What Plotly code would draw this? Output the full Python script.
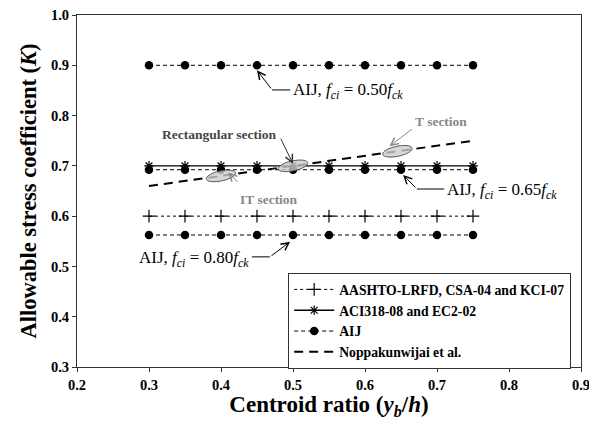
import numpy as np
import plotly.graph_objects as go

x_vals = [0.30, 0.35, 0.40, 0.45, 0.50, 0.55, 0.60, 0.65, 0.70, 0.75]
aashto = [0.60] * 10
aci = [0.70] * 10
aij_050 = [0.90] * 10
aij_065 = [0.6923] * 10
aij_080 = [0.5625] * 10
nopp = [0.66, 0.67, 0.68, 0.69, 0.70, 0.71, 0.72, 0.73, 0.74, 0.75]

FONT = "Liberation Serif"
fig = go.Figure()

fig.add_trace(go.Scatter(x=x_vals, y=aashto, mode="lines+markers", name="AASHTO-LRFD, CSA-04 and KCI-07",
                         line=dict(color="black", width=1, dash="dot"),
                         marker=dict(symbol="cross-thin", size=9, line=dict(color="black", width=1.2))))
fig.add_trace(go.Scatter(x=x_vals, y=aci, mode="lines+markers", name="ACI318-08 and EC2-02",
                         line=dict(color="black", width=1.3),
                         marker=dict(symbol="asterisk", size=8, line=dict(color="black", width=1.2))))
for i, vals in enumerate([aij_050, aij_065, aij_080]):
    fig.add_trace(go.Scatter(x=x_vals, y=vals, mode="lines+markers", name="AIJ",
                             legendgroup="aij", showlegend=(i == 0),
                             line=dict(color="black", width=1, dash="4px,3px"),
                             marker=dict(symbol="circle", size=8.5, color="black")))
fig.add_trace(go.Scatter(x=x_vals, y=nopp, mode="lines", name="Noppakunwijai et al.",
                         line=dict(color="black", width=2, dash="9px,6px")))

XS, YS = 720.0, 503.0

def ellipse(cx, cy, w, h, ang):
    t = np.linspace(0, 2 * np.pi, 40)
    a = np.deg2rad(ang)
    px = w / 2 * np.cos(t)
    py = h / 2 * np.sin(t)
    rx = px * np.cos(a) - py * np.sin(a)
    ry = px * np.sin(a) + py * np.cos(a)
    xs = cx + rx / XS
    ys = cy + ry / YS
    return "M %f,%f " % (xs[0], ys[0]) + " ".join("L %f,%f" % (u, v) for u, v in zip(xs[1:], ys[1:])) + " Z"

shapes = []
for cx, cy in [(0.40, 0.68), (0.50, 0.70), (0.645, 0.729)]:
    shapes.append(dict(type="path", path=ellipse(cx, cy, 30, 10, 12), xref="x", yref="y",
                       fillcolor="rgba(205,205,205,0.8)", line=dict(color="#555", width=1), layer="above"))

shapes.append(dict(type="line", xref="x", yref="y", x0=0.471, y0=0.851, x1=0.496, y1=0.851, line=dict(color="black", width=1)))
shapes.append(dict(type="line", xref="x", yref="y", x0=0.672, y0=0.654, x1=0.710, y1=0.654, line=dict(color="black", width=1)))
shapes.append(dict(type="line", xref="x", yref="y", x0=0.443, y0=0.519, x1=0.468, y1=0.519, line=dict(color="black", width=1)))

ann = []
def arrow(x, y, ax, ay, color="black"):
    ann.append(dict(x=x, y=y, ax=ax, ay=ay, xref="x", yref="y", axref="x", ayref="y", text="",
                    showarrow=True, arrowhead=5, arrowsize=1.5, arrowwidth=1, arrowcolor=color))

arrow(0.450, 0.890, 0.471, 0.851)
arrow(0.653, 0.682, 0.672, 0.654)
arrow(0.496, 0.549, 0.468, 0.519)
arrow(0.500, 0.704, 0.482, 0.757, "#333")
arrow(0.410, 0.687, 0.425, 0.665, "#888")
arrow(0.634, 0.739, 0.667, 0.775, "#888")

tf = dict(family=FONT, size=17, color="black")
ann.append(dict(x=0.497, y=0.848, xref="x", yref="y", xanchor="left", yanchor="middle", showarrow=False,
                text="AIJ, <i>f<sub>ci</sub></i> = 0.50<i>f<sub>ck</sub></i>", font=tf))
ann.append(dict(x=0.711, y=0.650, xref="x", yref="y", xanchor="left", yanchor="middle", showarrow=False,
                text="AIJ, <i>f<sub>ci</sub></i> = 0.65<i>f<sub>ck</sub></i>", font=tf))
ann.append(dict(x=0.442, y=0.515, xref="x", yref="y", xanchor="right", yanchor="middle", showarrow=False,
                text="AIJ, <i>f<sub>ci</sub></i> = 0.80<i>f<sub>ck</sub></i>", font=tf))
ann.append(dict(x=0.481, y=0.763, xref="x", yref="y", xanchor="right", yanchor="middle", showarrow=False,
                text="Rectangular section", font=dict(family=FONT, size=13.5, color="#444", weight="bold")))
ann.append(dict(x=0.424, y=0.633, xref="x", yref="y", xanchor="left", yanchor="middle", showarrow=False,
                text="IT section", font=dict(family=FONT, size=13.5, color="#888", weight="bold")))
ann.append(dict(x=0.666, y=0.788, xref="x", yref="y", xanchor="left", yanchor="middle", showarrow=False,
                text="T section", font=dict(family=FONT, size=13.5, color="#888", weight="bold")))

fig.update_layout(
    width=589, height=423,
    margin=dict(l=77, r=8, t=15, b=56),
    paper_bgcolor="white", plot_bgcolor="white",
    font=dict(family=FONT, color="black"),
    showlegend=True,
    legend=dict(x=0.419, y=0.267, xanchor="left", yanchor="top",
                bordercolor="#333", borderwidth=1, bgcolor="white",
                font=dict(family=FONT, size=13.7, color="black", weight="bold"),
                tracegroupgap=0, itemwidth=40),
    shapes=shapes, annotations=ann,
)
tick_font = dict(family=FONT, size=14.5, color="black", weight="bold")
fig.update_xaxes(range=[0.2, 0.9], dtick=0.1, tickformat=".1f", showgrid=False, zeroline=False,
                 showline=True, linecolor="#333", linewidth=1.2, mirror=True, automargin=False,
                 ticks="outside", ticklen=4, tickcolor="#333", tickfont=tick_font,
                 ticklabeloverflow="allow",
                 title=dict(text="Centroid ratio (<i>y<sub>b</sub></i>/<i>h</i>)",
                            font=dict(family=FONT, size=23, color="black", weight="bold"), standoff=4))
fig.update_yaxes(range=[0.3, 1.0], dtick=0.1, tickformat=".1f", showgrid=False, zeroline=False,
                 showline=True, linecolor="#333", linewidth=1.2, mirror=True, automargin=False,
                 ticks="outside", ticklen=4, tickcolor="#333", tickfont=tick_font,
                 title=dict(text="Allowable stress coefficient (<i>K</i>)",
                            font=dict(family=FONT, size=22.5, color="black", weight="bold"), standoff=8))

fig.write_html("out.html", config={"displayModeBar": False},
               post_script="document.body.style.margin='0';")
